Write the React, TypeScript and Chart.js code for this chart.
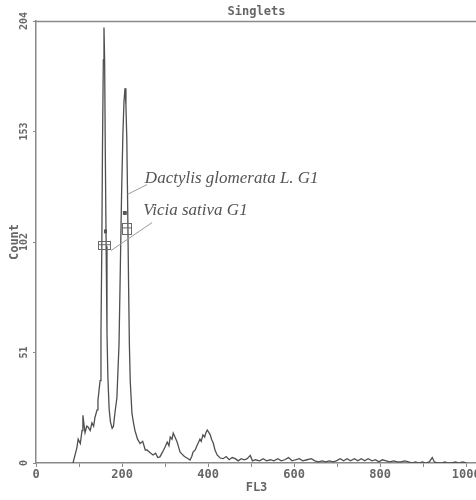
import React, { useEffect, useRef } from 'react';
import { Chart, registerables } from 'chart.js';

Chart.register(...registerables);

// FL3 channel values and event counts
const channels = [
  86, 95, 98, 103, 107, 109, 112, 114, 118, 121, 126, 130, 134, 137, 142, 144,
  149, 151, 153, 154.5, 156.5, 158, 159.5, 161, 163, 165, 167, 170, 173, 177, 180, 184,
  188, 193, 196, 199, 202, 204.5, 207, 209, 211, 213, 215, 217, 219,
  223, 227, 230, 236, 242, 248, 254, 258, 264, 272, 278, 283, 288, 294,
  300, 305, 309, 312, 316, 319, 323, 328, 332, 335, 340, 345, 351, 358,
  362, 365, 370, 374, 377, 381, 384, 388, 392, 395, 398, 402, 405, 408, 412, 416, 421, 428,
  435, 442, 449, 456, 463, 470, 477, 484, 491, 498, 503, 510, 520, 528, 536, 545,
  553, 562, 570, 578, 587, 595, 603, 612, 620, 630, 640, 648, 656, 665, 673, 682,
  690, 698, 707, 715, 723, 731, 740, 748, 756, 764, 772, 781, 789, 797, 805, 814,
  822, 831, 840, 848, 857, 866, 874, 882, 890, 898, 906, 914, 921, 926, 934, 942,
  950, 958, 966, 975, 983, 991, 1000,
];
const counts = [
  0, 7, 11, 9, 15, 22, 17, 14, 17, 16.6, 15, 18.5, 17, 21, 24.5, 29,
  38, 60, 100, 145, 186, 201, 186, 145, 100, 60, 40, 25, 19, 16, 17, 24,
  30, 55, 90, 125, 152, 167, 173, 165, 150, 120, 85, 55, 38,
  23, 18, 15, 11, 9, 10, 6, 6, 5, 3.7, 4.5, 2.5, 2.8, 5,
  7.4, 9.7, 8, 12, 11, 13.8, 12, 9.7, 7, 5, 4, 3, 2.3, 1.4,
  3, 5, 6, 8, 9.2, 11, 10, 13, 12, 14, 15.2, 14, 13, 11, 9.2, 6, 3.7, 2.3,
  2, 3, 1.5, 2.5, 2, 1, 2, 1.5, 2, 3.5, 1, 1.5, 1, 2, 1, 1.5,
  1, 2, 1, 1.5, 2.5, 1, 1.5, 2, 1, 1.5, 2, 1, 0.5, 1, 0.5, 1,
  0.5, 1, 2, 1, 2, 1, 2, 1, 2, 1, 2, 1, 1.5, 0.5, 1.5, 1,
  0.5, 1, 0.5, 0.5, 1, 0.5, 0, 0.5, 0, 0.5, 0, 0.5, 2.5, 0.5, 0, 0,
  0.5, 0, 0, 0.5, 0, 0.5, 0,
];

const xTickValues = [0, 100, 200, 300, 400, 500, 600, 700, 800, 900, 1000];
const yTickValues = [0, 51, 102, 153, 204];
const chartTitle = 'Singlets';
const xAxisTitle = 'FL3';
const yAxisTitle = 'Count';
const gateLabels = ['Dactylis glomerata L. G1', 'Vicia sativa G1'];

const MONO = '"DejaVu Sans Mono", monospace';
const TEXT = '#666';
const AXIS = '#8a8a8a';

export default function App() {
  const ref = useRef<HTMLCanvasElement>(null);

  useEffect(() => {
    const canvas = ref.current;
    if (!canvas) return;

    const overlay = {
      id: 'overlay',
      afterDatasetsDraw(chart: any) {
        const { ctx, chartArea: a, scales } = chart;
        const X = (v: number) => scales.x.getPixelForValue(v);
        const Y = (v: number) => scales.y.getPixelForValue(v);
        ctx.save();
        // top frame line
        ctx.strokeStyle = AXIS;
        ctx.lineWidth = 1.5;
        ctx.beginPath();
        ctx.moveTo(a.left, a.top + 0.5);
        ctx.lineTo(a.right, a.top + 0.5);
        ctx.stroke();

        // gate markers (G1 regions) on both peaks
        ctx.strokeStyle = '#6a6a6a';
        ctx.lineWidth = 1;
        const boxes = [
          [144, 172, 99, 102.5],
          [200, 221, 106, 111],
        ];
        boxes.forEach(([x0, x1, y0, y1]) => {
          const l = X(x0), r = X(x1), t = Y(y1), b = Y(y0);
          ctx.strokeRect(Math.round(l) + 0.5, Math.round(t) + 0.5, Math.round(r - l), Math.round(b - t));
          ctx.beginPath();
          ctx.moveTo(Math.round(l) + 0.5, (t + b) / 2);
          ctx.lineTo(Math.round(r) + 0.5, (t + b) / 2);
          ctx.stroke();
        });
        ctx.fillStyle = '#555';
        const marks = [
          [158, 165, 106, 107.8],
          [202, 211, 114.5, 116.3],
        ];
        marks.forEach(([x0, x1, y0, y1]) => {
          ctx.fillRect(X(x0), Y(y1), X(x1) - X(x0), Y(y0) - Y(y1));
        });

        // leader lines
        ctx.strokeStyle = '#9a9a9a';
        ctx.lineWidth = 1;
        ctx.beginPath();
        ctx.moveTo(X(258), Y(128.5));
        ctx.lineTo(X(213), Y(124));
        ctx.moveTo(X(270), Y(111));
        ctx.lineTo(X(174), Y(98));
        ctx.stroke();

        // labels
        ctx.fillStyle = '#555';
        ctx.font = 'italic 17px "Liberation Serif", serif';
        ctx.textAlign = 'left';
        ctx.textBaseline = 'alphabetic';
        ctx.fillText(gateLabels[0], X(253), Y(129.2));
        ctx.fillText(gateLabels[1], X(249), Y(114.4));
        ctx.restore();
      },
    };

    const chart = new Chart(canvas, {
      type: 'line',
      data: {
        datasets: [
          {
            data: channels.map((c, i) => ({ x: c, y: counts[i] })),
            borderColor: '#4f4f4f',
            borderWidth: 1.3,
            pointRadius: 0,
            tension: 0,
            fill: false,
          },
        ],
      },
      options: {
        animation: false,
        responsive: false,
        devicePixelRatio: 1,
        layout: { padding: { left: 0, right: 23, top: 0, bottom: 0 } },
        plugins: {
          legend: { display: false },
          tooltip: { enabled: false },
          title: {
            display: true,
            text: chartTitle,
            fullSize: false,
            color: TEXT,
            font: { family: MONO, size: 12, weight: 'bold', lineHeight: 1.2 },
            padding: { top: 5, bottom: 1.6 },
          },
        },
        scales: {
          x: {
            type: 'linear',
            min: 0,
            max: 1025,
            afterBuildTicks: (s: any) => {
              s.ticks = xTickValues.map((value) => ({ value }));
            },
            afterFit: (s: any) => {
              s.height = 37;
            },
            ticks: {
              autoSkip: false,
              maxRotation: 0,
              padding: 1,
              color: TEXT,
              font: { family: MONO, size: 12, weight: 'bold' },
              callback: (v: any) => (Number(v) % 200 === 0 ? String(v) : ''),
            },
            grid: { drawOnChartArea: false, drawTicks: true, tickLength: 4, color: AXIS },
            border: { display: true, color: AXIS, width: 1.5 },
            title: {
              display: true,
              text: xAxisTitle,
              color: TEXT,
              font: { family: MONO, size: 12, weight: 'bold', lineHeight: 1.2 },
              padding: { top: 0, bottom: 4.8 },
            },
          },
          y: {
            type: 'linear',
            min: 0,
            max: 204,
            afterBuildTicks: (s: any) => {
              s.ticks = yTickValues.map((value) => ({ value }));
            },
            afterFit: (s: any) => {
              s.width = 36;
            },
            ticks: {
              autoSkip: false,
              minRotation: 90,
              maxRotation: 90,
              crossAlign: 'center',
              padding: 0,
              color: TEXT,
              font: { family: MONO, size: 10, weight: 'bold' },
            },
            grid: { drawOnChartArea: false, drawTicks: true, tickLength: 3, color: AXIS },
            border: { display: true, color: AXIS, width: 1.5 },
            title: {
              display: true,
              text: yAxisTitle,
              color: TEXT,
              font: { family: MONO, size: 12, weight: 'bold', lineHeight: 1.2 },
              padding: { top: 8, bottom: 0 },
            },
          },
        },
      } as any,
      plugins: [overlay],
    });

    return () => chart.destroy();
  }, []);

  return (
    <div
      style={{
        position: 'fixed',
        left: 0,
        top: 0,
        width: 476,
        height: 500,
        overflow: 'hidden',
        background: '#fff',
      }}
    >
      <canvas ref={ref} width={500} height={500} style={{ display: 'block', width: 500, height: 500 }} />
    </div>
  );
}
